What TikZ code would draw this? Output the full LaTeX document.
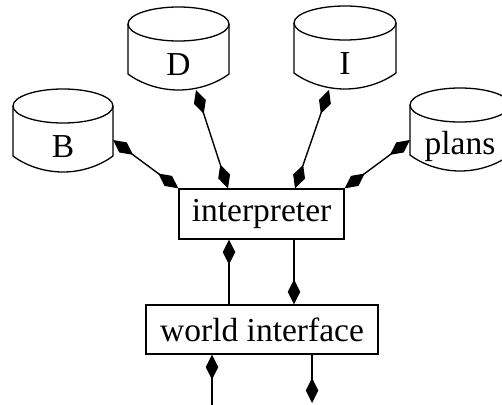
\documentclass[tikz,border=0pt]{standalone}
\usepackage{fontspec}
\setmainfont{Liberation Serif}
\usetikzlibrary{arrows.meta,calc}
\tikzset{
  dia/.tip={Diamond[length=25pt,width=12.5pt]},
  link/.style={line width=1.4pt},
  both/.style={link,dia-dia},
  toend/.style={link,-dia},
  boxnode/.style={draw,line width=1.3pt,rectangle,inner sep=0pt,font=\fontsize{33.5}{40}\selectfont},
  cyltext/.style={inner sep=0pt,font=\fontsize{33.5}{40}\selectfont},
  cylline/.style={line width=1.3pt}
}
\newcommand\dbcyl[5]{%
  \node[cyltext] (#1) at (#2,#3+58) {#5};
  \draw[cylline] (#2,#3+17) ellipse [x radius=#4/2, y radius=17];
  \draw[cylline] (#2-#4/2,#3+17) -- (#2-#4/2,#3+67)
    .. controls (#2-#4/2+0.12*#4,#3+76) and (#2-0.2*#4,#3+83) .. (#2,#3+83)
    .. controls (#2+0.2*#4,#3+83) and (#2+#4/2-0.12*#4,#3+76) .. (#2+#4/2,#3+67)
    -- (#2+#4/2,#3+17);
}
\begin{document}
\begin{tikzpicture}[x=1pt,y=-1pt]
\clip (0,0) rectangle (502,404);
\fill[white] (0,0) rectangle (502,404);
\dbcyl{B}{63}{89}{100}{B}
\dbcyl{D}{178.5}{7}{101}{D}
\dbcyl{I}{345}{6}{102}{I}
\dbcyl{plans}{460}{88}{100}{plans}
\node[boxnode,minimum width=165pt,minimum height=50pt] (interp) at (261.5,214) {interpreter};
\node[boxnode,minimum width=232pt,minimum height=49pt] (world) at (262,329.5) {world interface};
\coordinate (bl) at (212,410);
\coordinate (br) at (312,403);
\draw[both] ($(B)+(50,-7)$) -- (interp.north west);
\draw[both] ($(D)+(17.5,25)$) -- ($(interp.north)+(-33.5,0)$);
\draw[both] ($(I)+(-16,26)$) -- ($(interp.north)+(33.5,0)$);
\draw[both] ($(plans)+(-50,-6)$) -- (interp.north east);
\draw[toend] ($(world.north)+(-33,0)$) -- ($(interp.south)+(-32.5,0)$);
\draw[toend] ($(interp.south)+(32.5,0)$) -- ($(world.north)+(32,0)$);
\draw[toend] (bl) -- ($(world.south)+(-50,0)$);
\draw[toend] ($(world.south)+(50,0)$) -- (br);
\end{tikzpicture}
\end{document}
